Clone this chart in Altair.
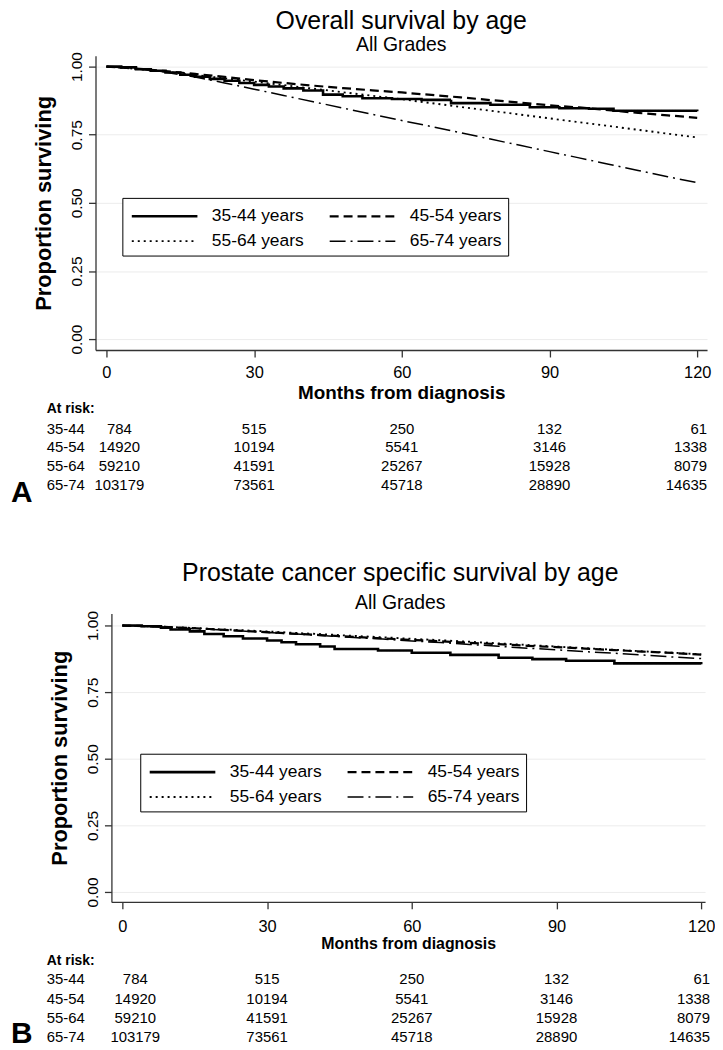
import altair as alt
import pandas as pd

FONT = "Liberation Sans"

groups = ["35-44 years", "45-54 years", "55-64 years", "65-74 years"]
row_labels = ["35-44", "45-54", "55-64", "65-74"]
risk_months = [0, 30, 60, 90, 120]
risk_3544 = [784, 515, 250, 132, 61]
risk_4554 = [14920, 10194, 5541, 3146, 1338]
risk_5564 = [59210, 41591, 25267, 15928, 8079]
risk_6574 = [103179, 73561, 45718, 28890, 14635]

grid_months = [0, 6, 12, 18, 24, 30, 36, 42, 48, 54, 60, 66, 72, 78, 84, 90, 96, 102, 108, 114, 120]

# Panel A: overall survival
A_3544_t = [0, 3, 6, 9, 12, 15, 18, 21, 24, 27, 30, 33, 36, 40, 44, 48, 52, 58, 64, 70, 78, 86, 92, 98, 103, 120]
A_3544_s = [1.0, 0.997, 0.990, 0.985, 0.978, 0.970, 0.963, 0.955, 0.948, 0.940, 0.933, 0.927, 0.920, 0.912,
            0.897, 0.891, 0.884, 0.881, 0.878, 0.866, 0.860, 0.851, 0.847, 0.845, 0.838, 0.836]
A_4554_s = [1.0, 0.993, 0.983, 0.973, 0.962, 0.950, 0.940, 0.930, 0.921, 0.913, 0.905, 0.896, 0.887, 0.877,
            0.868, 0.858, 0.850, 0.840, 0.830, 0.821, 0.812]
A_5564_s = [1.0, 0.992, 0.981, 0.969, 0.957, 0.945, 0.932, 0.919, 0.906, 0.893, 0.880, 0.866, 0.852, 0.838,
            0.824, 0.810, 0.796, 0.782, 0.768, 0.754, 0.740]
A_6574_s = [1.0, 0.992, 0.979, 0.962, 0.940, 0.917, 0.894, 0.871, 0.848, 0.825, 0.802, 0.780, 0.757, 0.734,
            0.711, 0.688, 0.665, 0.642, 0.619, 0.596, 0.574]

# Panel B: prostate cancer specific survival
B_3544_t = [0, 4, 8, 10, 14, 17, 21, 25, 30, 33, 36, 41, 44, 53, 60, 68, 78, 85, 92, 102, 120]
B_3544_s = [1.0, 0.997, 0.992, 0.985, 0.978, 0.968, 0.960, 0.951, 0.944, 0.937, 0.930, 0.921, 0.912, 0.906,
            0.898, 0.890, 0.879, 0.874, 0.868, 0.858, 0.855]
B_4554_s = [1.0, 0.997, 0.992, 0.987, 0.981, 0.975, 0.969, 0.963, 0.957, 0.952, 0.946, 0.941, 0.935, 0.930,
            0.924, 0.919, 0.913, 0.908, 0.902, 0.897, 0.891]
B_5564_s = [1.0, 0.997, 0.993, 0.988, 0.983, 0.978, 0.972, 0.967, 0.961, 0.956, 0.950, 0.945, 0.939, 0.933,
            0.927, 0.921, 0.915, 0.909, 0.903, 0.898, 0.892]
B_6574_s = [1.0, 0.996, 0.991, 0.986, 0.980, 0.974, 0.968, 0.962, 0.955, 0.949, 0.942, 0.936, 0.929, 0.922,
            0.915, 0.909, 0.902, 0.896, 0.889, 0.882, 0.876]

dash_range = [[1, 0], [9, 5], [2, 4], [16, 5, 2, 5]]
width_range = [2.6, 1.5, 1.5, 1.5]


def curves_df(t0, s0, s1, s2, s3):
    rows = []
    for t, s in zip(t0, s0):
        rows.append({"month": t, "surv": s, "group": groups[0]})
    for ser, g in ((s1, groups[1]), (s2, groups[2]), (s3, groups[3])):
        for t, s in zip(grid_months, ser):
            rows.append({"month": t, "surv": s, "group": g})
    return pd.DataFrame(rows)


risk_df = pd.DataFrame({
    "row": [lab for lab in row_labels for _ in risk_months],
    "month": risk_months * 4,
    "n": risk_3544 + risk_4554 + risk_5564 + risk_6574,
})


def panel(df, cfg):
    xs = alt.Scale(domain=cfg["xdom"], range=cfg["xrange"], nice=False, zero=False)
    ys = alt.Scale(domain=cfg["ydom"], nice=False, zero=False)
    xax = alt.Axis(values=risk_months, title="Months from diagnosis", grid=False, labelFontSize=16.5,
                   titleFontSize=cfg["xtfs"], titleFontWeight="bold", titlePadding=cfg["xtp"],
                   labelPadding=cfg["xlp"], tickSize=7, labelFlush=False)
    yax = alt.Axis(values=[0, 0.25, 0.5, 0.75, 1.0], format=".2f", title="Proportion surviving",
                   labelAngle=270, labelAlign="center", labelBaseline="bottom", labelFontSize=15.5,
                   labelPadding=4, titleFontSize=22, titleFontWeight="bold", titlePadding=14,
                   grid=True, gridColor="#ececec", tickSize=7, offset=cfg["yoff"])
    leg = alt.Legend(orient="none", legendX=cfg["lx"], legendY=cfg["ly"], columns=2, direction="horizontal",
                     title=None, symbolType="M-3,0L3,0", symbolSize=484, symbolOffset=24,
                     symbolStrokeColor="black", labelFontSize=17.5, labelFont=FONT, labelColor="black",
                     labelOffset=35, strokeColor="black", fillColor="white", padding=6, columnPadding=21,
                     rowPadding=4.5)
    dash = alt.StrokeDash("group:N", scale=alt.Scale(domain=groups, range=dash_range), legend=leg)
    sw = alt.StrokeWidth("group:N", scale=alt.Scale(domain=groups, range=width_range), legend=leg)
    enc = dict(x=alt.X("month:Q", scale=xs, axis=xax), y=alt.Y("surv:Q", scale=ys, axis=yax),
               strokeDash=dash, strokeWidth=sw, detail="group:N")
    base = alt.Chart(df)
    step_line = base.mark_line(color="black", interpolate="step-after").encode(**enc).transform_filter(
        alt.datum.group == groups[0])
    smooth = base.mark_line(color="black").encode(**enc).transform_filter(alt.datum.group != groups[0])

    layers = [smooth, step_line]
    rb = alt.Chart(risk_df)
    for lab, py in zip(row_labels, cfg["rows"]):
        r = rb.transform_filter(alt.datum.row == lab)
        mid = r.transform_filter((alt.datum.month > 0) & (alt.datum.month < 120)).mark_text(
            fontSize=15, font=FONT, color="black", align="center", baseline="middle").encode(
            x=alt.X("month:Q", scale=xs), y=alt.value(py), text="n:Q")
        first = r.transform_filter(alt.datum.month == 0).mark_text(
            fontSize=15, font=FONT, color="black", align="center", baseline="middle", dx=13).encode(
            x=alt.X("month:Q", scale=xs), y=alt.value(py), text="n:Q")
        last = r.transform_filter(alt.datum.month == 120).mark_text(
            fontSize=15, font=FONT, color="black", align="right", baseline="middle", dx=cfg["lastdx"]).encode(
            x=alt.X("month:Q", scale=xs), y=alt.value(py), text="n:Q")
        lbl = alt.Chart(pd.DataFrame({"t": [lab]})).mark_text(
            fontSize=15, font=FONT, color="black", align="left", baseline="middle",
            dx=cfg["labx"]).encode(x=alt.value(0), y=alt.value(py), text="t:N")
        layers += [mid, first, last, lbl]
    hdr = alt.Chart(pd.DataFrame({"t": ["At risk:"]})).mark_text(
        fontSize=14, font=FONT, fontWeight="bold", color="black", align="left", baseline="middle",
        dx=cfg["labx"]).encode(x=alt.value(0), y=alt.value(cfg["hdr"]), text="t:N")
    letter = alt.Chart(pd.DataFrame({"t": [cfg["letter"]]})).mark_text(
        fontSize=30, font=FONT, fontWeight="bold", color="black", align="left", baseline="middle",
        dx=-85).encode(x=alt.value(0), y=alt.value(cfg["lety"]), text="t:N")
    layers += [hdr, letter]
    return alt.layer(*layers).properties(
        width=cfg["w"], height=cfg["h"],
        title=alt.TitleParams(text=cfg["title"], subtitle="All Grades", fontSize=25, subtitleFontSize=19.5,
                              font=FONT, subtitleFont=FONT, fontWeight="normal", anchor="middle",
                              color="black", subtitleColor="black", offset=cfg["toff"],
                              subtitlePadding=cfg["stp"]))


cfgA = dict(xdom=[-2.22, 122.0], xrange=[0, 615], ydom=[-0.040, 1.040], w=615, h=296, yoff=0,
            xtfs=19, xtp=2, xlp=8, lx=27, ly=143,
            rows=[375, 394, 413, 432], hdr=355, labx=-49, letter="A", lety=440, lastdx=10,
            title="Overall survival by age", toff=-3, stp=2)
cfgB = dict(xdom=[-2.27, 120.8], xrange=[16, 613], ydom=[-0.037, 1.045], w=613, h=290, yoff=-16,
            xtfs=16, xtp=0, xlp=10, lx=45, ly=141,
            rows=[368, 388, 407, 426], hdr=349, labx=-49, letter="B", lety=423, lastdx=9,
            title="Prostate cancer specific survival by age", toff=-2, stp=8)

chartA = panel(curves_df(A_3544_t, A_3544_s, A_4554_s, A_5564_s, A_6574_s), cfgA)
chartB = panel(curves_df(B_3544_t, B_3544_s, B_4554_s, B_5564_s, B_6574_s), cfgB)

chart = alt.ConcatChart(concat=[chartA, chartB], columns=1, spacing=53,
                        padding={"left": 3, "top": -2, "right": 0, "bottom": 0}).resolve_scale(
    strokeDash="independent", strokeWidth="independent").configure_view(
    stroke=None).configure_axis(labelFont=FONT, titleFont=FONT, labelColor="black", titleColor="black",
                                domainColor="#333333", tickColor="#333333", domainWidth=1.3,
                                tickWidth=1.3)

chart.save("out.html", embed_options={"renderer": "svg", "actions": False})
